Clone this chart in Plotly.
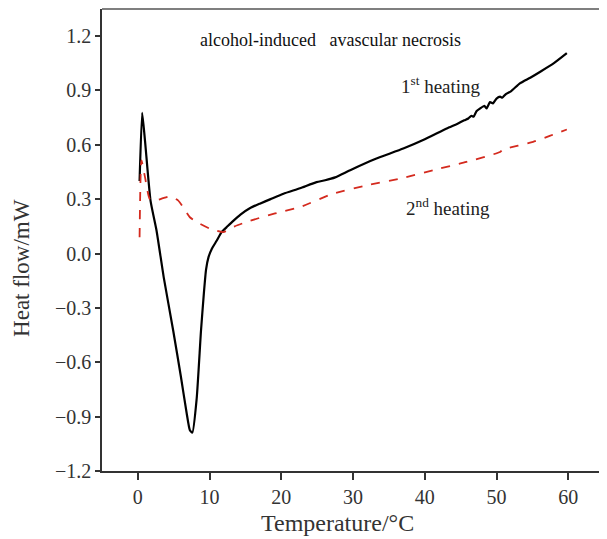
import plotly.graph_objects as go

# 1st heating (black solid)
t1 = [0.24, 0.6, 1.0, 1.77, 2.6, 3.6, 4.93, 6.0, 6.8, 7.25, 7.6, 8.2, 8.8, 9.2, 9.5, 9.85, 10.3, 10.98, 11.67,
      12.5, 13.3, 14.3, 15.6, 17.0, 18.5, 20.3, 22.6, 24.9, 26.1, 27.5, 29.6, 33.0, 37.0, 40.0, 43.05, 44.5, 45.5, 46.07,
      46.5, 46.8, 47.2, 47.7, 48.3, 48.6, 49.1, 49.5, 50.0, 50.5, 50.8, 51.3, 52.0, 53.3, 54.7, 56.1, 58.0, 59.8]
h1 = [0.40, 0.776, 0.62, 0.29, 0.127, -0.13, -0.426, -0.68, -0.88, -0.975, -0.988, -0.80, -0.426, -0.22, -0.09, -0.02, 0.025, 0.07, 0.118,
      0.15, 0.18, 0.215, 0.25, 0.275, 0.30, 0.33, 0.36, 0.394, 0.404, 0.42, 0.46, 0.52, 0.579, 0.63, 0.69, 0.715, 0.735, 0.745,
      0.76, 0.755, 0.785, 0.80, 0.815, 0.80, 0.835, 0.828, 0.855, 0.865, 0.86, 0.88, 0.895, 0.94, 0.97, 1.003, 1.05, 1.105]

# 2nd heating (red dashed)
t2 = [0.24, 0.5, 1.0, 1.67, 2.6, 3.5, 4.46, 5.6, 6.4, 7.25, 8.6, 10.04, 11.9, 13.5, 15.6, 19.0, 22.6, 27.2,
      31.9, 36.5, 41.2, 45.8, 50.5, 50.9, 53.0, 55.1, 57.5, 59.8]
h2 = [0.09, 0.514, 0.42, 0.30, 0.293, 0.305, 0.315, 0.293, 0.25, 0.20, 0.165, 0.137, 0.118, 0.15, 0.18, 0.22, 0.256, 0.33,
      0.376, 0.413, 0.46, 0.505, 0.56, 0.574, 0.595, 0.616, 0.65, 0.684]

xticks = [0, 10, 20, 30, 40, 50, 60]
yticks = [-1.2, -0.9, -0.6, -0.3, 0.0, 0.3, 0.6, 0.9, 1.2]

font = "Liberation Serif, Times New Roman, serif"

fig = go.Figure()
fig.add_trace(go.Scatter(x=t1, y=h1, mode="lines", line=dict(color="black", width=2.2, shape="spline", smoothing=0.5),
                         showlegend=False))
fig.add_trace(go.Scatter(x=t2, y=h2, mode="lines", line=dict(color="#d42a1e", width=1.8, dash="dash", shape="spline", smoothing=0.5),
                         showlegend=False))

fig.update_layout(
    width=607, height=539,
    margin=dict(l=94, r=8, t=1, b=76),
    paper_bgcolor="white", plot_bgcolor="white",
    font=dict(family=font, color="#222"),
    xaxis=dict(range=[-5.0, 65.4], tickvals=xticks, ticktext=[str(v) for v in xticks],
               automargin=False,
               showgrid=False, zeroline=False, showline=True, linecolor="#333", linewidth=1.5,
               ticks="outside", ticklen=7, tickwidth=1.5, tickcolor="#333",
               tickfont=dict(size=20, family=font, color="#333")),
    yaxis=dict(range=[-1.2, 1.349], tickvals=yticks, ticktext=[f"{v:.1f}".replace("-", "\u2212") for v in yticks],
               automargin=False,
               showgrid=False, zeroline=False, showline=True, linecolor="#333", linewidth=1.5,
               ticks="outside", ticklen=5, tickwidth=1.5, tickcolor="#333",
               tickfont=dict(size=20, family=font, color="#333")),
    shapes=[dict(type="line", xref="paper", yref="paper", x0=0, x1=1, y0=1, y1=1,
                 line=dict(color="#555", width=1.5))],
    annotations=[
        dict(x=0.467, y=-0.113, xref="paper", yref="paper", text="Temperature/°C",
             xanchor="center", yanchor="middle",
             showarrow=False, font=dict(size=24, family=font, color="#333")),
        dict(x=-0.158, y=0.44, xref="paper", yref="paper", text="Heat flow/mW", textangle=-90,
             xanchor="center", yanchor="middle",
             showarrow=False, font=dict(size=23, family=font, color="#333")),
        dict(x=26.8, y=1.178, xref="x", yref="y", text="alcohol-induced&nbsp;&nbsp; avascular necrosis",
             showarrow=False, font=dict(size=18, family=font, color="#111")),
        dict(x=42.3, y=0.93, xref="x", yref="y", text="1<sup>st</sup> heating",
             showarrow=False, font=dict(size=19, family=font, color="#222")),
        dict(x=43.2, y=0.255, xref="x", yref="y", text="2<sup>nd</sup> heating",
             showarrow=False, font=dict(size=19, family=font, color="#222")),
    ],
)

fig.write_html("out.html")
